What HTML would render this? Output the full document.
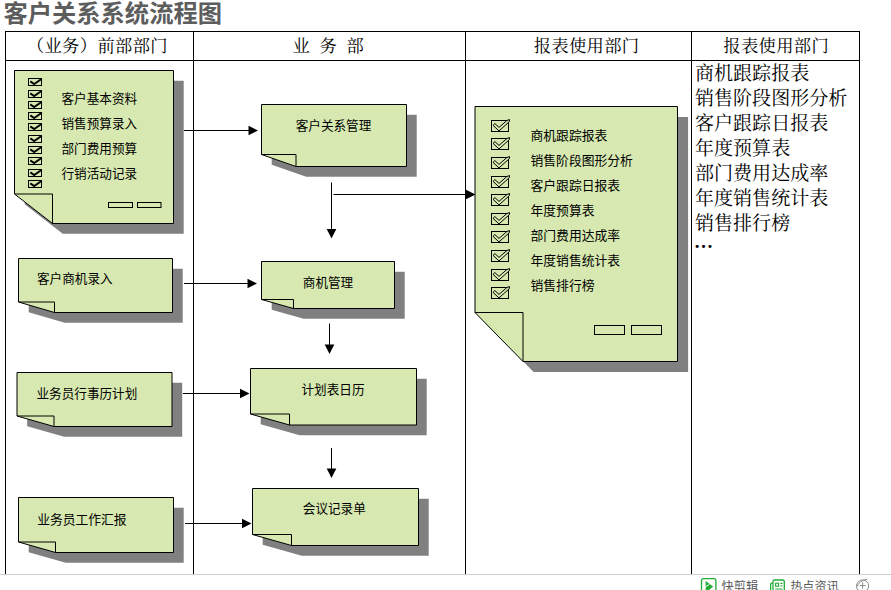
<!DOCTYPE html>
<html lang="zh-CN">
<head>
<meta charset="utf-8">
<title>客户关系系统流程图</title>
<style>
html,body{margin:0;padding:0;background:#fff;overflow:hidden;}
body{width:891px;height:590px;font-family:"Liberation Sans","Noto Sans CJK SC",sans-serif;}
svg{display:block;position:absolute;left:0;top:0;}
</style>
</head>
<body>
<svg width="891" height="590" viewBox="0 0 891 590">
<rect x="0" y="0" width="891" height="590" fill="#fff"/>
<g stroke="#000" stroke-width="1" shape-rendering="crispEdges">
<line x1="5" y1="31.5" x2="860" y2="31.5"/>
<line x1="5" y1="60.5" x2="860" y2="60.5"/>
<line x1="5.5" y1="31" x2="5.5" y2="574"/>
<line x1="193.5" y1="31" x2="193.5" y2="574"/>
<line x1="465.5" y1="31" x2="465.5" y2="574"/>
<line x1="691.5" y1="31" x2="691.5" y2="574"/>
<line x1="859.5" y1="31" x2="859.5" y2="574"/>
</g>
<text x="3.4" y="13.8" font-size="24.3" font-family='"Liberation Sans","Noto Sans CJK SC",sans-serif' text-anchor="start" dominant-baseline="central" fill="#5d5d5d" font-weight="bold" >客户关系系统流程图</text>
<text x="97.4" y="46.5" font-size="17.3" font-family='"Liberation Serif","Noto Serif CJK SC",serif' text-anchor="middle" dominant-baseline="central" fill="#000" font-weight="normal" letter-spacing="0.35">（业务）前部部门</text>
<text x="292.4 310 319.6 338 346.4" y="46.5" font-size="17.3" font-family='"Liberation Serif","Noto Serif CJK SC",serif' text-anchor="start" dominant-baseline="central" fill="#000" font-weight="normal" >业 务 部</text>
<text x="586.6" y="46.5" font-size="17.3" font-family='"Liberation Serif","Noto Serif CJK SC",serif' text-anchor="middle" dominant-baseline="central" fill="#000" font-weight="normal" letter-spacing="0.35">报表使用部门</text>
<text x="776.2" y="46.5" font-size="17.3" font-family='"Liberation Serif","Noto Serif CJK SC",serif' text-anchor="middle" dominant-baseline="central" fill="#000" font-weight="normal" letter-spacing="0.35">报表使用部门</text>
<text x="695" y="73.7" font-size="19.05" font-family='"Liberation Serif","Noto Serif CJK SC",serif' text-anchor="start" dominant-baseline="central" fill="#000" font-weight="normal" >商机跟踪报表</text>
<text x="695" y="98.72" font-size="19.05" font-family='"Liberation Serif","Noto Serif CJK SC",serif' text-anchor="start" dominant-baseline="central" fill="#000" font-weight="normal" >销售阶段图形分析</text>
<text x="695" y="123.74000000000001" font-size="19.05" font-family='"Liberation Serif","Noto Serif CJK SC",serif' text-anchor="start" dominant-baseline="central" fill="#000" font-weight="normal" >客户跟踪日报表</text>
<text x="695" y="148.76" font-size="19.05" font-family='"Liberation Serif","Noto Serif CJK SC",serif' text-anchor="start" dominant-baseline="central" fill="#000" font-weight="normal" >年度预算表</text>
<text x="695" y="173.78" font-size="19.05" font-family='"Liberation Serif","Noto Serif CJK SC",serif' text-anchor="start" dominant-baseline="central" fill="#000" font-weight="normal" >部门费用达成率</text>
<text x="695" y="198.8" font-size="19.05" font-family='"Liberation Serif","Noto Serif CJK SC",serif' text-anchor="start" dominant-baseline="central" fill="#000" font-weight="normal" >年度销售统计表</text>
<text x="695" y="223.82" font-size="19.05" font-family='"Liberation Serif","Noto Serif CJK SC",serif' text-anchor="start" dominant-baseline="central" fill="#000" font-weight="normal" >销售排行榜</text>
<text x="694.1" y="241.8" font-size="19.05" font-family='"Liberation Serif","Noto Serif CJK SC",serif' text-anchor="start" dominant-baseline="central" fill="#000" font-weight="bold" >…</text>
<polygon points="24.7,80.7 183.7,80.7 183.7,233.7 62.7,233.7 24.7,204.2" fill="#808080"/>
<polygon points="14.5,70.5 173.5,70.5 173.5,223.5 52.5,223.5 14.5,194" fill="#D7E9B0" stroke="#000" stroke-width="1"/>
<polyline points="14.5,194 52.5,194 52.5,223.5" fill="none" stroke="#000" stroke-width="1"/>
<rect x="28.5" y="78.5" width="13" height="7" fill="none" stroke="#000" stroke-width="1"/>
<polyline points="30.3,81.4 34.2,84.0 41.8,78.8" fill="none" stroke="#000" stroke-width="1.9"/>
<rect x="28.5" y="90.5" width="13" height="7" fill="none" stroke="#000" stroke-width="1"/>
<polyline points="30.3,93.4 34.2,96.0 41.8,90.8" fill="none" stroke="#000" stroke-width="1.9"/>
<rect x="28.5" y="101.5" width="13" height="7" fill="none" stroke="#000" stroke-width="1"/>
<polyline points="30.3,104.4 34.2,107.0 41.8,101.8" fill="none" stroke="#000" stroke-width="1.9"/>
<rect x="28.5" y="112.5" width="13" height="7" fill="none" stroke="#000" stroke-width="1"/>
<polyline points="30.3,115.4 34.2,118.0 41.8,112.8" fill="none" stroke="#000" stroke-width="1.9"/>
<rect x="28.5" y="123.5" width="13" height="7" fill="none" stroke="#000" stroke-width="1"/>
<polyline points="30.3,126.4 34.2,129.0 41.8,123.8" fill="none" stroke="#000" stroke-width="1.9"/>
<rect x="28.5" y="135.5" width="13" height="7" fill="none" stroke="#000" stroke-width="1"/>
<polyline points="30.3,138.4 34.2,141.0 41.8,135.8" fill="none" stroke="#000" stroke-width="1.9"/>
<rect x="28.5" y="146.5" width="13" height="7" fill="none" stroke="#000" stroke-width="1"/>
<polyline points="30.3,149.4 34.2,152.0 41.8,146.8" fill="none" stroke="#000" stroke-width="1.9"/>
<rect x="28.5" y="157.5" width="13" height="7" fill="none" stroke="#000" stroke-width="1"/>
<polyline points="30.3,160.4 34.2,163.0 41.8,157.8" fill="none" stroke="#000" stroke-width="1.9"/>
<rect x="28.5" y="169.5" width="13" height="7" fill="none" stroke="#000" stroke-width="1"/>
<polyline points="30.3,172.4 34.2,175.0 41.8,169.8" fill="none" stroke="#000" stroke-width="1.9"/>
<rect x="28.5" y="180.5" width="13" height="7" fill="none" stroke="#000" stroke-width="1"/>
<polyline points="30.3,183.4 34.2,186.0 41.8,180.8" fill="none" stroke="#000" stroke-width="1.9"/>
<text x="61.5" y="98.5" font-size="12.6" font-family='"Liberation Sans","Noto Sans CJK SC",sans-serif' text-anchor="start" dominant-baseline="central" fill="#000" font-weight="normal" >客户基本资料</text>
<text x="61.5" y="123.5" font-size="12.6" font-family='"Liberation Sans","Noto Sans CJK SC",sans-serif' text-anchor="start" dominant-baseline="central" fill="#000" font-weight="normal" >销售预算录入</text>
<text x="61.5" y="148.5" font-size="12.6" font-family='"Liberation Sans","Noto Sans CJK SC",sans-serif' text-anchor="start" dominant-baseline="central" fill="#000" font-weight="normal" >部门费用预算</text>
<text x="61.5" y="173.5" font-size="12.6" font-family='"Liberation Sans","Noto Sans CJK SC",sans-serif' text-anchor="start" dominant-baseline="central" fill="#000" font-weight="normal" >行销活动记录</text>
<rect x="108.5" y="202.5" width="24" height="5" fill="none" stroke="#000"/>
<rect x="137.5" y="202.5" width="23.5" height="5" fill="none" stroke="#000"/>
<polygon points="28.7,268.7 182.7,268.7 182.7,322.7 64.7,322.7 28.7,312.2" fill="#808080"/>
<polygon points="18.5,258.5 172.5,258.5 172.5,312.5 54.5,312.5 18.5,302" fill="#D7E9B0" stroke="#000" stroke-width="1"/>
<polyline points="18.5,302 54.5,302 54.5,312.5" fill="none" stroke="#000" stroke-width="1"/>
<text x="37" y="279.2" font-size="12.6" font-family='"Liberation Sans","Noto Sans CJK SC",sans-serif' text-anchor="start" dominant-baseline="central" fill="#000" font-weight="normal" >客户商机录入</text>
<polygon points="27.2,382.7 182.2,382.7 182.2,436.7 64.2,436.7 27.2,426.2" fill="#808080"/>
<polygon points="17,372.5 172,372.5 172,426.5 54,426.5 17,416" fill="#D7E9B0" stroke="#000" stroke-width="1"/>
<polyline points="17,416 54,416 54,426.5" fill="none" stroke="#000" stroke-width="1"/>
<text x="36.5" y="393.8" font-size="12.6" font-family='"Liberation Sans","Noto Sans CJK SC",sans-serif' text-anchor="start" dominant-baseline="central" fill="#000" font-weight="normal" >业务员行事历计划</text>
<polygon points="28.7,507.7 183.7,507.7 183.7,562.7 65.7,562.7 28.7,552.2" fill="#808080"/>
<polygon points="18.5,497.5 173.5,497.5 173.5,552.5 55.5,552.5 18.5,542" fill="#D7E9B0" stroke="#000" stroke-width="1"/>
<polyline points="18.5,542 55.5,542 55.5,552.5" fill="none" stroke="#000" stroke-width="1"/>
<text x="37.3" y="519.2" font-size="12.75" font-family='"Liberation Sans","Noto Sans CJK SC",sans-serif' text-anchor="start" dominant-baseline="central" fill="#000" font-weight="normal" >业务员工作汇报</text>
<polygon points="271.7,114.7 416.7,114.7 416.7,176.7 306.2,176.7 271.7,164.7" fill="#808080"/>
<polygon points="261.5,104.5 406.5,104.5 406.5,166.5 296,166.5 261.5,154.5" fill="#D7E9B0" stroke="#000" stroke-width="1"/>
<polyline points="261.5,154.5 296,154.5 296,166.5" fill="none" stroke="#000" stroke-width="1"/>
<text x="333.5" y="126.1" font-size="12.6" font-family='"Liberation Sans","Noto Sans CJK SC",sans-serif' text-anchor="middle" dominant-baseline="central" fill="#000" font-weight="normal" >客户关系管理</text>
<polygon points="271.7,271.7 404.7,271.7 404.7,318.7 303.7,318.7 271.7,309.7" fill="#808080"/>
<polygon points="261.5,261.5 394.5,261.5 394.5,308.5 293.5,308.5 261.5,299.5" fill="#D7E9B0" stroke="#000" stroke-width="1"/>
<polyline points="261.5,299.5 293.5,299.5 293.5,308.5" fill="none" stroke="#000" stroke-width="1"/>
<text x="328" y="283.1" font-size="12.6" font-family='"Liberation Sans","Noto Sans CJK SC",sans-serif' text-anchor="middle" dominant-baseline="central" fill="#000" font-weight="normal" >商机管理</text>
<polygon points="260.7,378.7 426.7,378.7 426.7,435.2 299.7,435.2 260.7,424.2" fill="#808080"/>
<polygon points="250.5,368.5 416.5,368.5 416.5,425 289.5,425 250.5,414" fill="#D7E9B0" stroke="#000" stroke-width="1"/>
<polyline points="250.5,414 289.5,414 289.5,425" fill="none" stroke="#000" stroke-width="1"/>
<text x="333" y="390.1" font-size="12.6" font-family='"Liberation Sans","Noto Sans CJK SC",sans-serif' text-anchor="middle" dominant-baseline="central" fill="#000" font-weight="normal" >计划表日历</text>
<polygon points="262.7,498.7 428.7,498.7 428.7,555.7 301.7,555.7 262.7,544.7" fill="#808080"/>
<polygon points="252.5,488.5 418.5,488.5 418.5,545.5 291.5,545.5 252.5,534.5" fill="#D7E9B0" stroke="#000" stroke-width="1"/>
<polyline points="252.5,534.5 291.5,534.5 291.5,545.5" fill="none" stroke="#000" stroke-width="1"/>
<text x="334.3" y="509.3" font-size="12.6" font-family='"Liberation Sans","Noto Sans CJK SC",sans-serif' text-anchor="middle" dominant-baseline="central" fill="#000" font-weight="normal" >会议记录单</text>
<polygon points="485.6,117.1 688.1,117.1 688.1,372.1 533.6,372.1 485.6,323.1" fill="#808080"/>
<polygon points="475,106.5 677.5,106.5 677.5,361.5 523,361.5 475,312.5" fill="#D7E9B0" stroke="#000" stroke-width="1"/>
<polyline points="475,312.5 523,312.5 523,361.5" fill="none" stroke="#000" stroke-width="1"/>
<rect x="491.5" y="120.5" width="17" height="11" fill="none" stroke="#000" stroke-width="1"/>
<polygon points="493.0,125.4 494.9,123.6 499.0,127.4 507.0,120.4 509.6,119.6 509.3,121.7 499.0,130.9" fill="#D7E9B0" stroke="#000" stroke-width="1" stroke-linejoin="miter"/>
<rect x="491.5" y="138.5" width="17" height="11" fill="none" stroke="#000" stroke-width="1"/>
<polygon points="493.0,143.4 494.9,141.6 499.0,145.4 507.0,138.4 509.6,137.6 509.3,139.7 499.0,148.9" fill="#D7E9B0" stroke="#000" stroke-width="1" stroke-linejoin="miter"/>
<rect x="491.5" y="157.5" width="17" height="11" fill="none" stroke="#000" stroke-width="1"/>
<polygon points="493.0,162.4 494.9,160.6 499.0,164.4 507.0,157.4 509.6,156.6 509.3,158.7 499.0,167.9" fill="#D7E9B0" stroke="#000" stroke-width="1" stroke-linejoin="miter"/>
<rect x="491.5" y="176.5" width="17" height="11" fill="none" stroke="#000" stroke-width="1"/>
<polygon points="493.0,181.4 494.9,179.6 499.0,183.4 507.0,176.4 509.6,175.6 509.3,177.7 499.0,186.9" fill="#D7E9B0" stroke="#000" stroke-width="1" stroke-linejoin="miter"/>
<rect x="491.5" y="194.5" width="17" height="11" fill="none" stroke="#000" stroke-width="1"/>
<polygon points="493.0,199.4 494.9,197.6 499.0,201.4 507.0,194.4 509.6,193.6 509.3,195.7 499.0,204.9" fill="#D7E9B0" stroke="#000" stroke-width="1" stroke-linejoin="miter"/>
<rect x="491.5" y="213.5" width="17" height="11" fill="none" stroke="#000" stroke-width="1"/>
<polygon points="493.0,218.4 494.9,216.6 499.0,220.4 507.0,213.4 509.6,212.6 509.3,214.7 499.0,223.9" fill="#D7E9B0" stroke="#000" stroke-width="1" stroke-linejoin="miter"/>
<rect x="491.5" y="231.5" width="17" height="11" fill="none" stroke="#000" stroke-width="1"/>
<polygon points="493.0,236.4 494.9,234.6 499.0,238.4 507.0,231.4 509.6,230.6 509.3,232.7 499.0,241.9" fill="#D7E9B0" stroke="#000" stroke-width="1" stroke-linejoin="miter"/>
<rect x="491.5" y="250.5" width="17" height="11" fill="none" stroke="#000" stroke-width="1"/>
<polygon points="493.0,255.4 494.9,253.6 499.0,257.4 507.0,250.4 509.6,249.6 509.3,251.7 499.0,260.9" fill="#D7E9B0" stroke="#000" stroke-width="1" stroke-linejoin="miter"/>
<rect x="491.5" y="269.5" width="17" height="11" fill="none" stroke="#000" stroke-width="1"/>
<polygon points="493.0,274.4 494.9,272.6 499.0,276.4 507.0,269.4 509.6,268.6 509.3,270.7 499.0,279.9" fill="#D7E9B0" stroke="#000" stroke-width="1" stroke-linejoin="miter"/>
<rect x="491.5" y="287.5" width="17" height="11" fill="none" stroke="#000" stroke-width="1"/>
<polygon points="493.0,292.4 494.9,290.6 499.0,294.4 507.0,287.4 509.6,286.6 509.3,288.7 499.0,297.9" fill="#D7E9B0" stroke="#000" stroke-width="1" stroke-linejoin="miter"/>
<text x="530.5" y="135.1" font-size="12.8" font-family='"Liberation Sans","Noto Sans CJK SC",sans-serif' text-anchor="start" dominant-baseline="central" fill="#000" font-weight="normal" >商机跟踪报表</text>
<text x="530.5" y="160.15" font-size="12.8" font-family='"Liberation Sans","Noto Sans CJK SC",sans-serif' text-anchor="start" dominant-baseline="central" fill="#000" font-weight="normal" >销售阶段图形分析</text>
<text x="530.5" y="185.2" font-size="12.8" font-family='"Liberation Sans","Noto Sans CJK SC",sans-serif' text-anchor="start" dominant-baseline="central" fill="#000" font-weight="normal" >客户跟踪日报表</text>
<text x="530.5" y="210.25" font-size="12.8" font-family='"Liberation Sans","Noto Sans CJK SC",sans-serif' text-anchor="start" dominant-baseline="central" fill="#000" font-weight="normal" >年度预算表</text>
<text x="530.5" y="235.3" font-size="12.8" font-family='"Liberation Sans","Noto Sans CJK SC",sans-serif' text-anchor="start" dominant-baseline="central" fill="#000" font-weight="normal" >部门费用达成率</text>
<text x="530.5" y="260.35" font-size="12.8" font-family='"Liberation Sans","Noto Sans CJK SC",sans-serif' text-anchor="start" dominant-baseline="central" fill="#000" font-weight="normal" >年度销售统计表</text>
<text x="530.5" y="285.4" font-size="12.8" font-family='"Liberation Sans","Noto Sans CJK SC",sans-serif' text-anchor="start" dominant-baseline="central" fill="#000" font-weight="normal" >销售排行榜</text>
<rect x="594.5" y="325.5" width="30" height="9" fill="none" stroke="#000"/>
<rect x="631.5" y="325.5" width="30" height="9" fill="none" stroke="#000"/>
<line x1="184" y1="130.5" x2="249.5" y2="130.5" stroke="#000" stroke-width="1"/>
<polygon points="258,130.5 248.5,125.7 248.5,135.3" fill="#000"/>
<line x1="184" y1="283.5" x2="248.5" y2="283.5" stroke="#000" stroke-width="1"/>
<polygon points="257,283.5 247.5,278.7 247.5,288.3" fill="#000"/>
<line x1="183" y1="393.5" x2="241.0" y2="393.5" stroke="#000" stroke-width="1"/>
<polygon points="249.5,393.5 240.0,388.7 240.0,398.3" fill="#000"/>
<line x1="185" y1="523.5" x2="243.0" y2="523.5" stroke="#000" stroke-width="1"/>
<polygon points="251.5,523.5 242.0,518.7 242.0,528.3" fill="#000"/>
<line x1="331.5" y1="182.5" x2="331.5" y2="230.0" stroke="#000" stroke-width="1"/>
<polygon points="331.5,238.5 326.7,229.0 336.3,229.0" fill="#000"/>
<line x1="333.5" y1="194.5" x2="467.0" y2="194.5" stroke="#000" stroke-width="1"/>
<polygon points="475.5,194.5 466.0,189.7 466.0,199.3" fill="#000"/>
<line x1="329.5" y1="323.5" x2="329.5" y2="345.5" stroke="#000" stroke-width="1"/>
<polygon points="329.5,354 324.7,344.5 334.3,344.5" fill="#000"/>
<line x1="331.5" y1="448" x2="331.5" y2="469.5" stroke="#000" stroke-width="1"/>
<polygon points="331.5,478 326.7,468.5 336.3,468.5" fill="#000"/>
<rect x="0" y="574" width="891" height="16" fill="#fff"/>
<line x1="0" y1="574.5" x2="891" y2="574.5" stroke="#cfcfcf" stroke-width="1" shape-rendering="crispEdges"/>
<rect x="701.5" y="578.7" width="14.4" height="14" rx="2" fill="#fff" stroke="#22ac38" stroke-width="1.3"/>
<polygon points="705.6,581 705.6,593 713.2,586.6" fill="#22ac38"/>
<line x1="704.5" y1="587.4" x2="709.5" y2="584.3" stroke="#fff" stroke-width="0.9"/>
<text x="721.6" y="586.9" font-size="12.2" font-family='"Liberation Sans","Noto Sans CJK SC",sans-serif' text-anchor="start" dominant-baseline="central" fill="#5a5a5a" font-weight="normal" >快剪辑</text>
<rect x="773" y="580" width="11.3" height="14" rx="1.5" fill="#fff" stroke="#22ac38" stroke-width="1.3"/>
<path d="M773 583.2h-1.2q-1.2 0 -1.2 1.2v8" fill="none" stroke="#22ac38" stroke-width="1.3"/>
<rect x="775.6" y="583.2" width="3" height="3" fill="none" stroke="#22ac38" stroke-width="1.1"/>
<path d="M780.4 583.4h2.2M780.4 586h2.2M775.2 589h7.4" stroke="#22ac38" stroke-width="1.1" fill="none"/>
<text x="790.2" y="586.9" font-size="12.2" font-family='"Liberation Sans","Noto Sans CJK SC",sans-serif' text-anchor="start" dominant-baseline="central" fill="#5a5a5a" font-weight="normal" >热点资讯</text>
<circle cx="862.6" cy="586" r="6.1" fill="none" stroke="#8a8a8a" stroke-width="1"/>
<path d="M859.6 585.6h6M862.6 582.6v6" stroke="#8a8a8a" stroke-width="1" fill="none"/>
<path d="M856.8 586.4 Q859.5 580.6 867.2 579.2" stroke="#8a8a8a" stroke-width="1" fill="none"/>
</svg>
</body>
</html>
